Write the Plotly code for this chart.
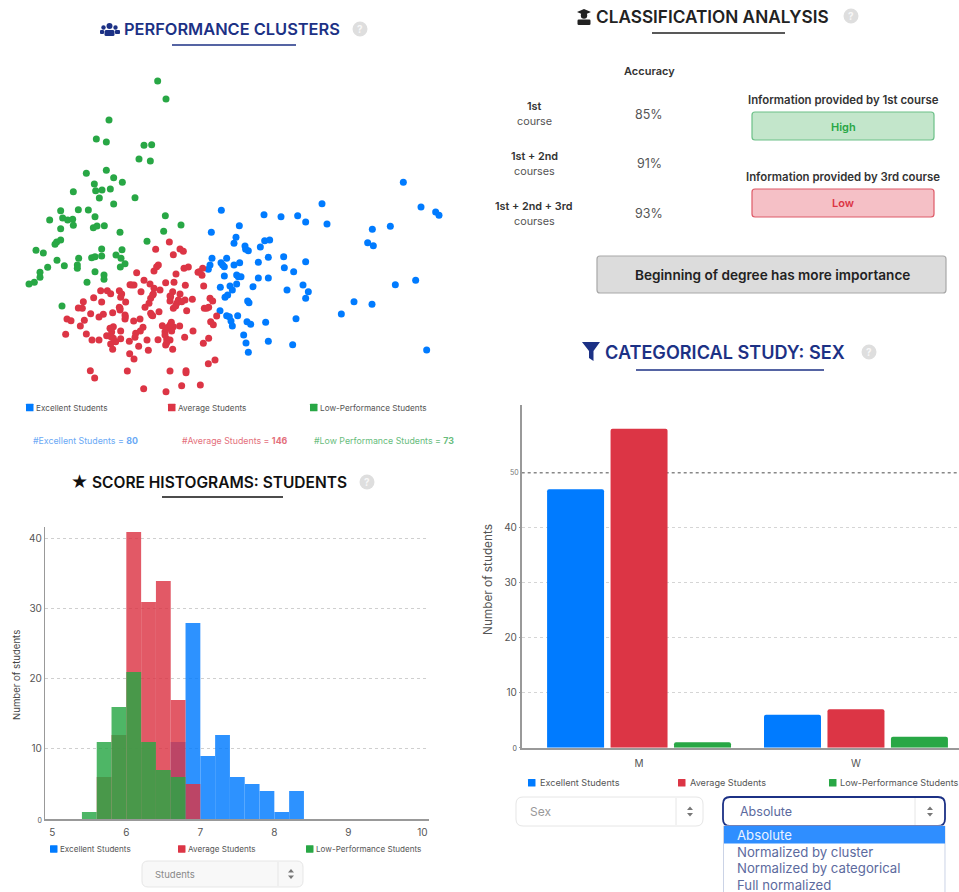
import plotly.graph_objects as go

W, H = 959, 892
BLUE, RED, GREEN = "#007bff", "#dc3545", "#28a745"
NAVY = "#1c3185"
FONT = "Inter"

cluster_names = ["Excellent Students", "Average Students", "Low-Performance Students"]
excellent_points = [(1210,547),(966,611),(664,631),(1263,621),(792,644),(843,650),(893,647),(917,666),(981,672),(1307,636),(1317,646),(718,677),(1117,688),(1171,679),
(634,697),(708,712),(702,730),(735,738),(737,748),(745,752),(781,741),(794,722),(809,720),(1103,728),(1120,737),(851,770),(805,772),(636,775),(680,775),(663,788),(702,795),(719,788),(775,787),(917,785),(630,795),(625,808),(673,800),(853,803),(881,815),(673,828),(710,825),(723,830),(775,834),(805,834),(1247,841),(1186,854),(690,858),(710,852),(661,862),(697,870),(759,860),(861,870),(909,855),(925,875),(917,895),(683,885),(675,892),(743,903),(747,908),(1062,905),(1116,913),(660,932),(1024,942),(680,947),(688,950),(713,947),(693,963),(697,978),(888,956),(741,965),(752,973),(797,967),(731,1005),(738,1029),(805,1024),(878,1034),(745,1057),(1280,1050),(668,795),(715,830)]
average_points = [(508,726),(467,748),(540,747),(550,754),(520,764),(475,795),(462,813),(410,818),(565,801),(552,805),(608,805),(594,817),(606,826),(528,822),(432,841),(390,854),(402,855),(450,852),(497,848),(522,847),(556,856),(611,858),(462,865),(480,870),(302,872),(322,872),(332,881),(358,872),(365,882),(423,875),(518,875),(540,882),(510,888),(460,882),(452,895),(362,892),(281,893),(305,906),(250,905),(377,906),(447,910),(510,903),(535,900),(555,900),(577,898),(630,895),(638,903),(235,924),(247,925),(358,922),(435,922),(520,925),(530,910),(613,925),(626,922),(272,941),(310,943),(297,951),(338,938),(360,930),(375,945),(375,957),(452,940),(477,935),(458,947),(560,932),(201,957),(213,962),(253,961),(241,978),(401,963),(420,957),(650,948),(632,965),(640,974),(514,967),(487,977),(505,982),(520,980),(539,978),(340,980),(429,982),(421,993),(362,993),(335,996),(320,1007),(333,1010),(259,1002),(197,1003),(407,1000),(405,1012),(495,995),(515,993),(579,993),(362,1016),(347,1025),(276,1020),(297,1020),(388,1024),(441,1020),(474,1019),(500,1017),(510,1020),(554,1012),(626,1015),(610,1030),(332,1032),(338,1048),(416,1039),(445,1051),(497,1035),(518,1048),(389,1061),(402,1077),(645,1080),(625,1091),(271,1112),(284,1134),(382,1113),(510,1113),(558,1112),(431,1166),(498,1175),(545,1157),(601,1155),(470,800),(598,815),(395,855),(458,885),(512,890),(545,905),(527,918),(620,925),(330,985),(340,1015),(500,985),(510,975),(495,1005),(500,1028),(360,925),(376,950),(455,945),(558,1118)]
low_points = [(473,243),(498,297),(327,360),(289,417),(319,426),(432,436),(455,434),(417,477),(451,483),(319,511),(259,520),(341,533),(367,547),(283,552),(287,572),(306,570),(331,567),(220,575),(298,594),(405,593),(341,612),(235,629),(265,630),(182,632),(285,650),(496,647),(149,660),(188,654),(203,660),(218,658),(220,676),(182,686),(280,683),(291,678),(313,677),(543,675),(360,697),(491,694),
(182,720),(170,726),(165,733),(108,751),(130,759),(305,747),(366,749),(441,724),(348,765),(305,768),(275,773),(285,770),(236,775),(363,775),(171,781),(193,797),(232,795),(232,805),(143,802),(375,791),(361,801),(120,817),(120,832),(103,847),(87,852),(285,815),(312,825),(312,838),(261,847),(186,918)]

hist_bins = [5.5, 5.7, 5.9, 6.1, 6.3, 6.5, 6.7, 6.9, 7.1, 7.3, 7.5, 7.7, 7.9, 8.1, 8.3]
hist_excellent = [0, 0, 0, 0, 0, 0, 11, 28, 9, 12, 6, 5, 4, 1, 4]
hist_average = [0, 6, 12, 41, 31, 34, 17, 5, 0, 0, 0, 0, 0, 0, 0]
hist_low = [1, 11, 16, 21, 11, 7, 6, 0, 0, 0, 0, 0, 0, 0, 0]

sex_categories = ["M", "W"]
sex_excellent = [47, 6]
sex_average = [58, 7]
sex_low = [1, 2]
sex_reference = 50

fig = go.Figure()
colors = [BLUE, RED, GREEN]

for pts, c, n in zip([excellent_points, average_points, low_points], colors, cluster_names):
    fig.add_trace(go.Scatter(x=[p[0] for p in pts], y=[p[1] for p in pts], mode="markers", name=n,
                             marker=dict(color=c, size=7, line=dict(width=0)), xaxis="x", yaxis="y", showlegend=False))
for vals, c, n in zip([hist_excellent, hist_average, hist_low], colors, cluster_names):
    fig.add_trace(go.Bar(x=hist_bins, y=vals, width=0.2, name=n, marker=dict(color=c, line=dict(width=0)),
                         opacity=0.82, xaxis="x2", yaxis="y2", showlegend=False))
for vals, c, n in zip([sex_excellent, sex_average, sex_low], colors, cluster_names):
    fig.add_trace(go.Bar(x=sex_categories, y=vals, name=n, marker=dict(color=c, line=dict(width=0), cornerradius=2),
                         xaxis="x3", yaxis="y3", showlegend=False, offsetgroup=n, width=0.2627))

def dx(a, b): return [a / W, b / W]
def dy(top, bottom): return [1 - bottom / H, 1 - top / H]
def px(x): return x / W
def py(y): return 1 - y / H

shapes, annotations = [], []

def text(x, y, s, size=10, color="#444", weight=400, anchor="center", font=FONT, angle=0):
    shift = -2 if anchor == "left" else 0
    annotations.append(dict(x=px(x + shift), y=py(y), xref="paper", yref="paper", text=s, showarrow=False,
                            xanchor=anchor, yanchor="middle", textangle=angle,
                            font=dict(family=font, size=size, color=color, weight=weight)))

def rrect(x0, y0, x1, y1, r=3, fill="rgba(0,0,0,0)", line="rgba(0,0,0,0)", width=1):
    p = lambda x, y: f"{px(x):.5f} {py(y):.5f}"
    path = (f"M {p(x0+r,y0)} L {p(x1-r,y0)} Q {p(x1,y0)} {p(x1,y0+r)} L {p(x1,y1-r)} Q {p(x1,y1)} {p(x1-r,y1)} "
            f"L {p(x0+r,y1)} Q {p(x0,y1)} {p(x0,y1-r)} L {p(x0,y0+r)} Q {p(x0,y0)} {p(x0+r,y0)} Z")
    shapes.append(dict(type="path", xref="paper", yref="paper", path=path, fillcolor=fill,
                       line=dict(color=line, width=width), layer="above"))

def poly(points, fill):
    path = "M " + " L ".join(f"{px(x):.5f} {py(y):.5f}" for x, y in points) + " Z"
    shapes.append(dict(type="path", xref="paper", yref="paper", path=path, fillcolor=fill,
                       line=dict(width=0), layer="above"))

def circle(cx, cy, r, fill):
    shapes.append(dict(type="circle", xref="paper", yref="paper", x0=px(cx-r), x1=px(cx+r), y0=py(cy+r), y1=py(cy-r),
                       fillcolor=fill, line=dict(width=0), layer="above"))

def line(x0, y0, x1, y1, color, width=1):
    shapes.append(dict(type="line", xref="paper", yref="paper", x0=px(x0), x1=px(x1), y0=py(y0), y1=py(y1),
                       line=dict(color=color, width=width), layer="above"))

def help_icon(x, y):
    circle(x, y, 7.5, "#dedede")
    text(x, y, "?", 10, "#f7f7f7", 700)

def title(x0, y, s, color, size, ux0, ux1, uy, hx):
    text(x0, y, s, size, color, 600, "left")
    line(ux0, uy, ux1, uy, color, 1.5)
    help_icon(hx, y)

def legend(y, items, size=8.2):
    for (sx, tx), c, n in zip(items, colors, cluster_names):
        rrect(sx, y - 3.8, sx + 7.5, y + 3.8, 0.5, c)
        text(tx, y, n, size, "#555", 400, "left")

def arrows(x, y):
    poly([(x-3, y-1.5), (x+3, y-1.5), (x, y-5)], "#777")
    poly([(x-3, y+1.5), (x+3, y+1.5), (x, y+5)], "#777")

title(124, 29, "PERFORMANCE CLUSTERS", NAVY, 16.4, 172, 296, 45, 360)
for cx, cy, r in [(109.5, 26, 3), (103.5, 27.5, 2.2), (115.5, 27.5, 2.2)]:
    circle(cx, cy, r, NAVY)
rrect(104.5, 30, 114.5, 36, 1.5, NAVY)
rrect(100, 30, 104, 34, 1, NAVY)
rrect(115, 30, 120, 34, 1, NAVY)

title(596, 16, "CLASSIFICATION ANALYSIS", "#222", 17.2, 652, 785, 33, 851)
poly([(577, 12), (584, 9), (591, 12), (584, 15)], "#222")
circle(584, 15.5, 3.2, "#222")
rrect(577.5, 19.5, 590.5, 25, 1.2, "#222")

title(605, 352, "CATEGORICAL STUDY: SEX", NAVY, 18.1, 636, 824, 370, 869)
poly([(582, 342), (600, 342), (593.5, 351), (593.5, 361), (589, 358), (589, 351)], NAVY)

title(92, 482, "SCORE HISTOGRAMS: STUDENTS", "#111", 15.5, 162, 283, 497, 367)
text(79.5, 481, "★", 19, "#111", 400, "center", "DejaVu Sans")

legend(407.5, [(26, 36), (168, 178), (310, 320)])
text(33, 440, "#Excellent Students = <b>80</b>", 8.8, "#6aa9f5", 400, "left")
text(182, 440, "#Average Students = <b>146</b>", 8.8, "#e4707c", 400, "left")
text(314, 440, "#Low Performance Students = <b>73</b>", 8.8, "#68bd7d", 400, "left")

text(649, 71.5, "Accuracy", 11, "#333", 600)
for y1, y2, a, b in [(107, 121.5, "1st", "course"), (156.5, 171, "1st + 2nd", "courses"), (206, 221, "1st + 2nd + 3rd", "courses")]:
    text(534, y1, a, 10.8, "#333", 600)
    text(534, y2, b, 10.8, "#555", 400)
for y, s in [(114, "85%"), (164, "91%"), (213.5, "93%")]:
    text(649, y, s, 12.5, "#555", 400)
text(843, 100, "Information provided by 1st course", 11.4, "#333", 600)
text(843, 176.5, "Information provided by 3rd course", 11.4, "#333", 600)
rrect(752, 112, 934, 140, 3, "#c3e6cb", "#6cc088", 1.2)
text(843, 127, "High", 11, GREEN, 600)
rrect(752, 189, 934, 217, 3, "#f5c0c6", "#de5a68", 1.2)
text(843, 203, "Low", 11, RED, 600)
rrect(597, 256, 946, 293, 3, "#dcdcdc", "#a8a8a8", 1.2)
text(772, 274.5, "Beginning of degree has more importance", 13.6, "#222", 600)

legend(849, [(50, 60), (178, 188), (306, 316)], 8.1)
text(16, 675, "Number of students", 9.6, "#444", 400, "center", FONT, -90)
rrect(142, 861, 303, 887, 6, "#f8f8f8", "#e6e6e6", 1)
line(278, 862, 278, 886, "#e6e6e6", 1)
text(155, 874, "Students", 9.5, "#888", 400, "left")
arrows(291, 874)

legend(782.7, [(528, 540), (678, 690), (829, 840)], 9.1)
text(488, 580, "Number of students", 11.8, "#555", 400, "center", FONT, -90)
rrect(516, 797, 703, 826, 7, "#ffffff", "#e6e6e6", 1)
line(676, 798, 676, 825, "#e6e6e6", 1)
text(530, 811.5, "Sex", 12, "#999", 400, "left")
arrows(690, 811.5)
rrect(723, 797, 945, 826, 7, "#ffffff", NAVY, 1.8)
line(915, 798, 915, 825, "#e6e6e6", 1)
text(740, 811.5, "Absolute", 12.5, "#5c6a9e", 400, "left")
arrows(930, 811.5)
rrect(723.5, 826, 945, 900, 0, "#ffffff", "#cbd3e6", 1)
rrect(724, 826, 945, 843.5, 0, "#2f8eff")
for y, s, c in [(835, "Absolute", "#eaf3ff"), (851.5, "Normalized by cluster", "#5c6a9e"),
                (868, "Normalized by categorical", "#5c6a9e"), (885, "Full normalized", "#5c6a9e")]:
    text(737, y, s, 13.2, c, 400, "left")

# reference line and its small tick label, in data units
shapes.append(dict(type="line", xref="x3 domain", yref="y3", x0=0, x1=1, y0=sex_reference, y1=sex_reference,
                   line=dict(color="#888", width=1.5, dash="3px,3px"), layer="below"))
annotations.append(dict(x=0, xref="x3 domain", xanchor="right", xshift=-1, y=sex_reference, yref="y3", yanchor="middle",
                        text=str(sex_reference), showarrow=False, font=dict(family=FONT, size=7, color="#777")))

tick_font = dict(family=FONT, size=10, color="#555")
small = lambda s: f'<span style="font-size:7px">{s}</span>'
AXIS = "#999"

fig.update_layout(
    width=W, height=H, margin=dict(l=0, r=0, t=0, b=0, autoexpand=False), autosize=False,
    paper_bgcolor="white", plot_bgcolor="rgba(0,0,0,0)", barmode="overlay",
    shapes=shapes, annotations=annotations, font=dict(family=FONT),
    xaxis=dict(domain=dx(0, 480), range=[0, 1440], visible=False),
    yaxis=dict(domain=dy(40, 400), range=[1200, 120], visible=False),
    xaxis2=dict(domain=dx(45, 429), range=[4.901, 10.09], anchor="y2", tickvals=[5, 6, 7, 8, 9, 10],
                showgrid=False, zeroline=False, showline=True, linecolor=AXIS, linewidth=1.5,
                ticks="outside", ticklen=3, tickcolor="rgba(0,0,0,0)", tickfont=tick_font),
    yaxis2=dict(domain=dy(527, 819), range=[0, 41.7], anchor="x2", tickvals=[0, 10, 20, 30, 40],
                ticktext=[small("0"), "10", "20", "30", "40"], showgrid=True, griddash="dot", gridcolor="#cfcfcf",
                zeroline=False, showline=True, linecolor=AXIS, linewidth=1.2,
                ticks="", tickfont=tick_font),
    xaxis3=dict(domain=dx(521.7, 959), range=[-0.541, 1.475], anchor="y3", type="category",
                showgrid=False, zeroline=False, showline=True, linecolor=AXIS, linewidth=1.5,
                ticks="outside", ticklen=6, tickcolor="rgba(0,0,0,0)", tickfont=tick_font),
    yaxis3=dict(domain=dy(405, 747.7), range=[0, 62.3], anchor="x3", tickvals=[0, 10, 20, 30, 40],
                ticktext=[small("0"), "10", "20", "30", "40"], showgrid=True, griddash="dot", gridcolor="#d5d5d5",
                zeroline=False, showline=True, linecolor=AXIS, linewidth=1.5,
                ticks="outside", ticklen=1, tickcolor=AXIS, tickfont=tick_font),
)

offsets = [-0.2926, 0.0, 0.2926]
for tr, off in zip(fig.data[6:9], [o - 0.2627 / 2 for o in offsets]):
    tr.offset = off

fig.write_html("out.html", post_script="document.body.style.margin='0';document.body.style.overflow='hidden';",
               config=dict(displayModeBar=False))
